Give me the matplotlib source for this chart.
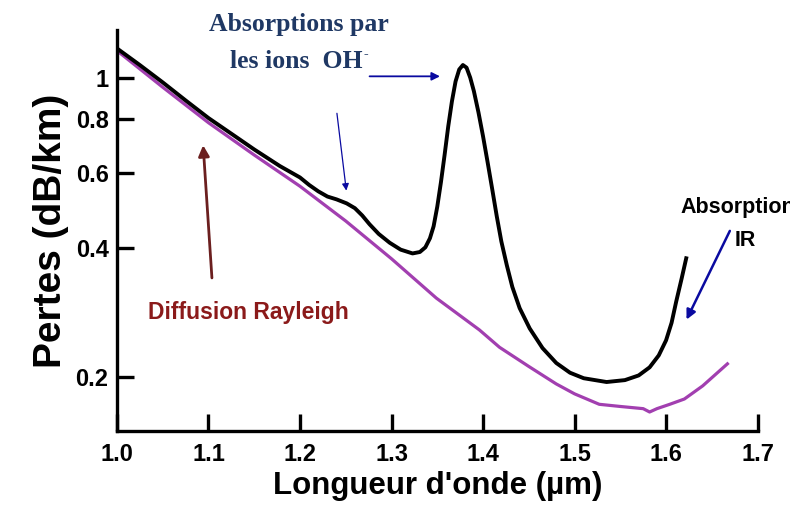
import matplotlib
matplotlib.use('Agg')
import matplotlib.pyplot as plt

# -------------------------
# Données
# -------------------------
lam_total = [1.000, 1.025, 1.05, 1.075, 1.10, 1.125, 1.15, 1.178, 1.20, 1.21, 1.22,
             1.23, 1.24, 1.251, 1.26, 1.268, 1.276, 1.286, 1.298, 1.31, 1.323,
             1.331, 1.337, 1.342, 1.346, 1.350, 1.354, 1.358, 1.362, 1.366, 1.370,
             1.374, 1.378, 1.382, 1.386, 1.390, 1.395, 1.400, 1.405, 1.410, 1.415,
             1.420, 1.426, 1.432, 1.44, 1.451, 1.465, 1.48, 1.495, 1.51, 1.535,
             1.555, 1.57, 1.582, 1.592, 1.60, 1.606, 1.611, 1.617, 1.622]
pertes_total = [1.17, 1.07, 0.975, 0.885, 0.805, 0.74, 0.68, 0.622, 0.585, 0.562, 0.543,
                0.528, 0.520, 0.509, 0.496, 0.477, 0.455, 0.432, 0.412, 0.397, 0.389,
                0.392, 0.402, 0.422, 0.45, 0.50, 0.57, 0.66, 0.77, 0.88, 0.98,
                1.045, 1.07, 1.055, 1.00, 0.93, 0.83, 0.73, 0.635, 0.55, 0.475,
                0.415, 0.365, 0.325, 0.29, 0.26, 0.234, 0.216, 0.205, 0.199, 0.195,
                0.197, 0.202, 0.211, 0.225, 0.244, 0.268, 0.30, 0.34, 0.379]

lam_rayleigh = [1.0, 1.05, 1.1, 1.15, 1.2, 1.25, 1.3, 1.349, 1.396, 1.418, 1.45,
                1.48, 1.50, 1.527, 1.55, 1.575, 1.582, 1.59, 1.604, 1.62, 1.64, 1.667]
pertes_rayleigh = [1.156, 0.95, 0.785, 0.66, 0.558, 0.463, 0.378, 0.306, 0.258, 0.235, 0.212,
                   0.193, 0.183, 0.173, 0.171, 0.169, 0.166, 0.169, 0.173, 0.178, 0.191, 0.215]

x_ticks = [1.0, 1.1, 1.2, 1.3, 1.4, 1.5, 1.6, 1.7]
y_ticks = [0.2, 0.4, 0.6, 0.8, 1]
y_labels = ['0.2', '0.4', '0.6', '0.8', '1']

# -------------------------
# Figure
# -------------------------
plt.rcParams['font.family'] = ['Liberation Sans', 'DejaVu Sans']

fig = plt.figure(figsize=(7.9, 5.21), dpi=100)
ax = fig.add_axes([0.148, 0.173, 0.811, 0.769])

ax.plot(lam_rayleigh, pertes_rayleigh, color='#a23fb0', lw=2.3)
ax.plot(lam_total, pertes_total, color='black', lw=2.8, solid_joinstyle='round')

ax.set_yscale('log')
ax.set_xlim(1.0, 1.7)
ax.set_ylim(0.15, 1.29)
ax.set_xticks(x_ticks)
ax.set_xticklabels([f'{v:.1f}' for v in x_ticks])
ax.set_yticks(y_ticks)
ax.set_yticklabels(y_labels)
ax.minorticks_off()

for s in ['top', 'right']:
    ax.spines[s].set_visible(False)
for s in ['left', 'bottom']:
    ax.spines[s].set_linewidth(2.4)

ax.tick_params(direction='in', length=12, width=2.4, labelsize=17)
ax.tick_params(axis='y', pad=6)
ax.tick_params(axis='x', pad=9)
for lab in ax.get_xticklabels() + ax.get_yticklabels():
    lab.set_fontweight('bold')

ax.set_xlabel("Longueur d'onde (µm)", fontsize=22.5, fontweight='bold', labelpad=3)
ax.set_ylabel('Pertes (dB/km)', fontsize=28, fontweight='bold', labelpad=5)

# -------------------------
# Annotations
# -------------------------
bleu_texte = '#1f3864'
fig.text(299 / 790, 1 - 25 / 521, 'Absorptions par', family='Liberation Serif',
         fontweight='bold', fontsize=18.5, color=bleu_texte, ha='center', va='center')
fig.text(230 / 790, 1 - 62 / 521, 'les ions  OH', family='Liberation Serif',
         fontweight='bold', fontsize=18.5, color=bleu_texte, ha='left', va='center')
fig.text(366 / 790, 1 - 55 / 521, '-', family='Liberation Serif',
         fontweight='bold', fontsize=10, color=bleu_texte, ha='center', va='center')

arr_blue = dict(arrowstyle='-|>', color='#0a0aa0', lw=1.3, mutation_scale=12)
ax.annotate('', xy=(1.356, 1.007), xytext=(1.273, 1.007), arrowprops=arr_blue)
ax.annotate('', xy=(1.251, 0.537), xytext=(1.240, 0.838),
            arrowprops=dict(arrowstyle='-|>', color='#0a0aa0', lw=0.9, mutation_scale=10))
ax.annotate('', xy=(1.621, 0.269), xytext=(1.671, 0.445),
            arrowprops=dict(arrowstyle='-|>', color='#0a0aa0', lw=1.8, mutation_scale=14),
            annotation_clip=False)
ax.annotate('', xy=(1.094, 0.706), xytext=(1.104, 0.336),
            arrowprops=dict(arrowstyle='-|>', color='#6b1f1f', lw=2.0, mutation_scale=16))

fig.text(148 / 790, 1 - 312 / 521, 'Diffusion Rayleigh', fontweight='bold', fontsize=16.5,
         color='#8b1a1a', ha='left', va='center')
fig.text(680 / 790, 1 - 208 / 521, 'Absorption', fontweight='bold', fontsize=15.5,
         color='black', ha='left', va='center')
fig.text(745 / 790, 1 - 240 / 521, 'IR', fontweight='bold', fontsize=15.5,
         color='black', ha='center', va='center')

fig.savefig('out.png', dpi=100)
